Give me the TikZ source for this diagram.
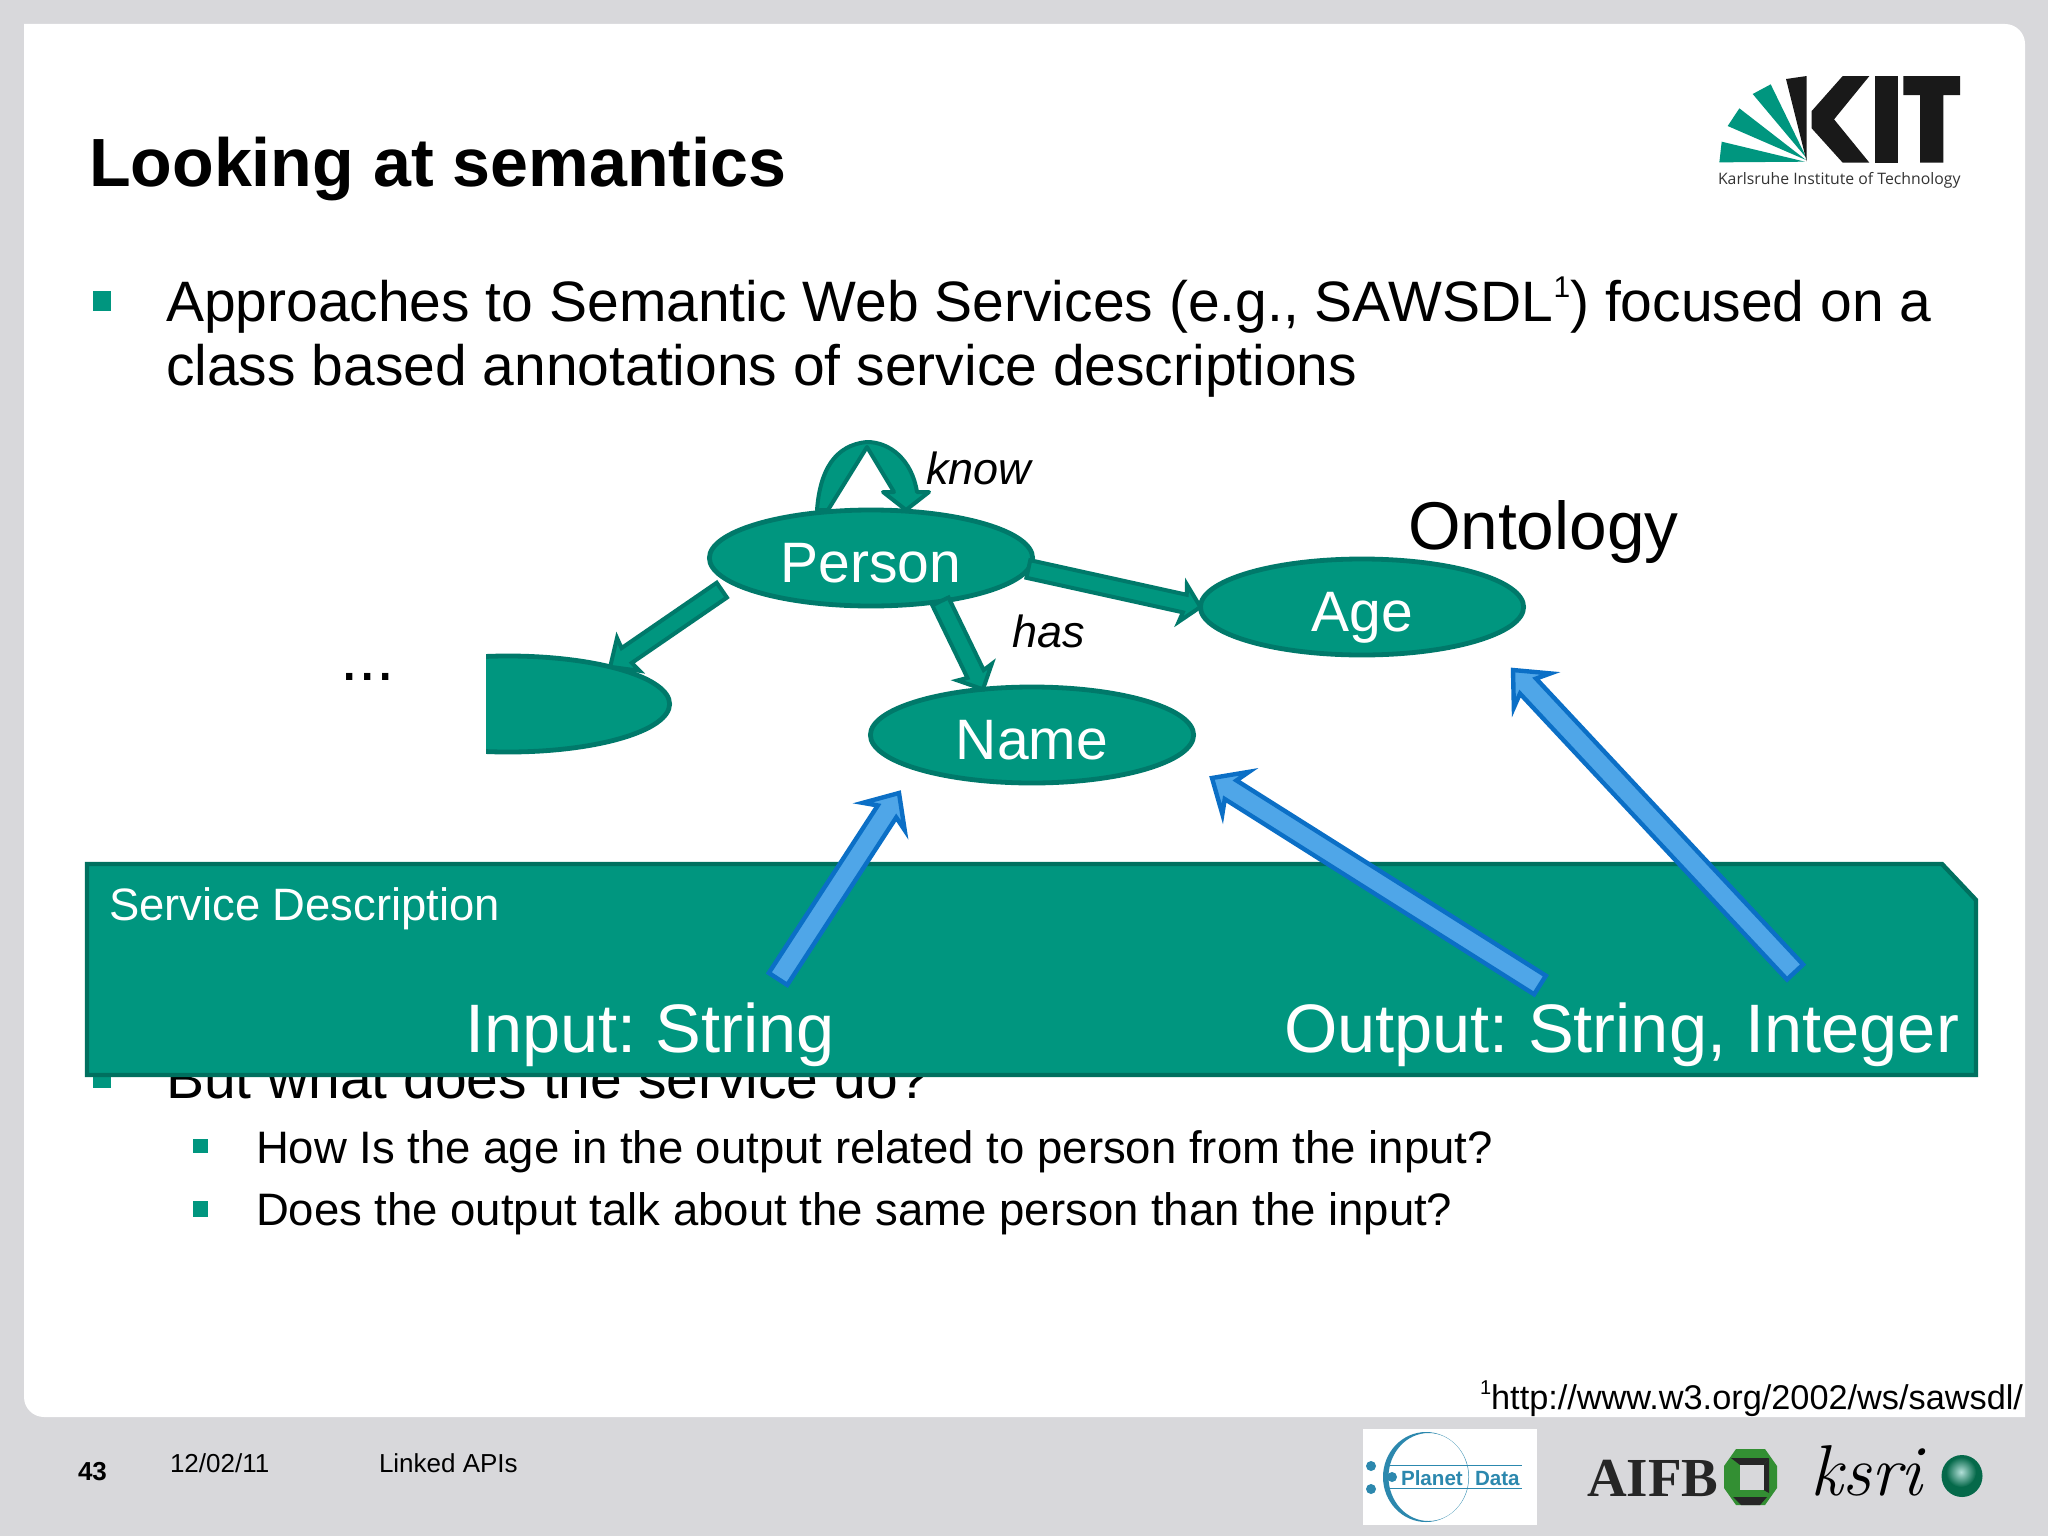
\documentclass[tikz,border=0pt]{standalone}
\usepackage{fontspec}
\setmainfont{Liberation Sans}
\newfontfamily\logofont{Open Sans}
\newfontfamily\aifbfont{Liberation Serif}
\newfontfamily\ksrifont{Latin Modern Roman}
\usetikzlibrary{calc,shapes.geometric}
\frenchspacing
\newcommand{\pxfont}[1]{\fontsize{#1}{#1}\selectfont}
\newcommand{\upone}[1]{\raisebox{0.42em}{\pxfont{#1}1}}
% style, from, to, half shaft, half head, head length, head back
\newcommand{\blockarrow}[7]{%
  \path let \p1=($(#3)-(#2)$) in \pgfextra{%
    \pgfmathsetmacro\arrowangle{atan2(\y1,\x1)}\global\let\arrowangle\arrowangle
    \pgfmathsetmacro\arrowlen{veclen(\x1,\y1)}\global\let\arrowlen\arrowlen};
  \draw [#1,shift={(#3)},rotate=\arrowangle] (0pt,0pt) -- (-#6pt,#5pt) -- (-#7pt,#4pt) -- (-\arrowlen pt,#4pt)
    -- (-\arrowlen pt,-#4pt) -- (-#7pt,-#4pt) -- (-#6pt,-#5pt) -- cycle;
}
\definecolor{kitgreen}{HTML}{00967F}
\definecolor{kitedge}{HTML}{00796A}
\definecolor{boxedge}{HTML}{00705F}
\definecolor{slidegray}{HTML}{D8D8DB}
\definecolor{blueface}{HTML}{4FA6E8}
\definecolor{blueedge}{HTML}{0B6FC6}
\definecolor{planetblue}{HTML}{2C88AE}
\definecolor{balledge}{HTML}{05694A}
\tikzset{
  txt/.style={anchor=base west,inner sep=0pt,outer sep=0pt},
  concept/.style={ellipse,fill=kitgreen,draw=kitedge,line width=2.4pt,inner sep=0pt,outer sep=0pt,
    minimum width=161.6pt,minimum height=48pt,text=white,font=\pxfont{28.5},text height=24pt,text depth=0pt},
  bulletbox/.style={fill=kitgreen},
  relation/.style={fill=kitgreen,draw=kitedge,line width=2pt},
  mapping/.style={fill=blueface,draw=blueedge,line width=2.2pt},
}
\begin{document}
\begin{tikzpicture}[x=0.5pt,y=-0.5pt]
\useasboundingbox (0,0) rectangle (2048,1536);
\fill [slidegray] (0,0) rectangle (2048,1536);
\fill [white] (24,24) [rounded corners=10pt] -- (2025,24) [sharp corners] -- (2025,1417)
  [rounded corners=10pt] -- (24,1417) [sharp corners] -- cycle;

% slide text
\node [txt,font=\bfseries\pxfont{34.1}] (title) at (89,186) {Looking at semantics};
\fill [bulletbox] (93,291) rectangle (111,311);
\node [txt,font=\pxfont{28.5}] (lineone) at (166,321) {Approaches to Semantic Web Services (e.g., SAWSDL\upone{15}) focused on a};
\node [txt,font=\pxfont{28.5}] (linetwo) at (166,385) {class based annotations of service descriptions};
\fill [bulletbox] (93,1068) rectangle (111,1088);
\node [txt,font=\pxfont{28.5}] (butwhat) at (166,1098) {But what does the service do?};
\fill [bulletbox] (193,1139) rectangle (208,1153);
\node [txt,font=\pxfont{22.75}] (subone) at (256,1163) {How Is the age in the output related to person from the input?};
\fill [bulletbox] (193,1201) rectangle (208,1217);
\node [txt,font=\pxfont{22.75}] (subtwo) at (256,1225) {Does the output talk about the same person than the input?};
\node [txt,font=\pxfont{17.15}] (footnote) at (1480,1409) {\upone{10}http://www.w3.org/2002/ws/sawsdl/};

% ontology
\node [concept] (person) at (871,558) {Person};
\node [concept] (name) at (1032,735) {Name};
\node [concept] (age) at (1362,607) {Age};
\begin{scope}
  \clip (486,600) rectangle (720,800);
  \node [concept] (other) at (508,704) {};
\end{scope}
\node [txt,font=\pxfont{33}] (dots) at (340,680) {...};
\node [txt,font=\itshape\pxfont{22.5}] (know) at (926,484) {know};
\node [txt,font=\itshape\pxfont{22.5}] (has) at (1012,647) {has};
\node [txt,font=\pxfont{33.8}] (ontology) at (1408,549) {Ontology};

\coordinate (othertail) at (722,590);
\blockarrow{relation}{othertail}{other.20}{4.5}{10}{11}{10}
\blockarrow{relation}{person.-32}{name.137}{4.5}{9.5}{9.5}{8.5}
\blockarrow{relation}{person.-4.5}{age.west}{4.5}{9.5}{9}{8}
\draw [fill=kitgreen,draw=kitedge,line width=2pt,line join=round]
  (817,510) .. controls (820,470) and (835,445) .. (867,442)
  .. controls (890,442) and (912,460) .. (917,492) -- (929,492) -- (906,510) -- (883,492) -- (894,492)
  -- (867,447) -- (828,510) -- cycle;

% service box
\draw [fill=kitgreen,draw=boxedge,line width=2.2pt] (87,864) -- (1942,864) -- (1976,900) -- (1976,1075) -- (87,1075) -- cycle;
\node [txt,text=white,font=\pxfont{22.7}] (service) at (109,920) {Service Description};
\node [txt,text=white,font=\pxfont{34.3}] (input) at (465,1052) {Input: String};
\node [txt,text=white,font=\pxfont{34.3}] (output) at (1284,1052) {Output: String, Integer};

\coordinate (inputtail) at (778,979);
\coordinate (inputtip) at (899,793);
\coordinate (outputtail) at (1540,985);
\coordinate (outputtip) at (1212,778);
\coordinate (agetail) at (1795,972);
\coordinate (agetip) at (1513,670);
\blockarrow{mapping}{inputtail}{inputtip}{5.5}{12.5}{14}{11}
\blockarrow{mapping}{outputtail}{outputtip}{5.5}{12.5}{14}{11}
\blockarrow{mapping}{agetail}{agetip}{5.5}{12.5}{14}{11}

% footer
\node [txt,font=\bfseries\pxfont{13}] (page) at (78,1480) {43};
\node [txt,font=\pxfont{13}] (date) at (170,1472) {12/02/11};
\node [txt,font=\pxfont{13}] (talk) at (379,1472) {Linked APIs};

% KIT logo
\begin{scope}[shift={(1680,50)},x=0.1667pt,y=-0.1667pt]
  \fill [kitgreen] (118,337) -- (125,275) -- (375,335) -- cycle;
  \fill [kitgreen] (143,228) -- (178,175) -- (378,330) -- cycle;
  \fill [kitgreen] (218,132) -- (272,103) -- (380,325) -- cycle;
  \fill [black!90] (318,87) -- (380,78) -- (380,335) -- cycle;
  \fill [black!90] (395,183) -- (488,78) -- (568,78) -- (462,208) -- (568,338) -- (488,338) -- (395,235) -- cycle;
  \fill [black!90] (585,78) rectangle (655,338);
  \fill [black!90] (670,78) -- (840,78) -- (840,135) -- (790,135) -- (790,338) -- (720,338) -- (720,135) -- (670,135) -- cycle;
\end{scope}
\node [txt,text=black!80,font=\logofont\pxfont{7.9}] (kitname) at (1718,184) {Karlsruhe Institute of Technology};

% partner logos
\fill [white] (1363,1429) rectangle (1537,1525);
\draw [planetblue,line width=0.4pt] (1385,1465) -- (1522,1465);
\draw [planetblue,line width=0.4pt] (1385,1488) -- (1522,1488);
\fill [planetblue,even odd rule] (1426,1477) ellipse [x radius=43,y radius=45] (1428.5,1477) ellipse [x radius=40,y radius=44];
\fill [planetblue] (1371,1466) circle [radius=5];
\fill [planetblue] (1371,1489) circle [radius=5];
\fill [planetblue] (1392,1477) circle [radius=5];
\node [txt,text=planetblue,font=\bfseries\pxfont{10.3}] (planet) at (1401,1485) {Planet};
\node [txt,text=planetblue,font=\bfseries\pxfont{10.3}] (data) at (1475,1485) {Data};
\node [txt,text=black!85,font=\aifbfont\bfseries\pxfont{27.5}] (aifb) at (1587,1496) {AIFB};
\fill [green!45!black!80!white] (1736,1449) -- (1765,1449) -- (1777,1466) -- (1777,1488) -- (1765,1505) -- (1736,1505) -- (1724,1488) -- (1724,1466) -- cycle;
\fill [black!85] (1731,1458) -- (1769,1458) -- (1763.5,1465) -- (1740,1465) -- cycle;
\fill [black!85] (1769,1458) -- (1769,1493) -- (1763.5,1490) -- (1763.5,1465) -- cycle;
\fill [black!85] (1733,1497) -- (1767,1497) -- (1760,1505) -- (1741,1505) -- cycle;
\fill [slidegray] (1740,1465) rectangle (1763.5,1490);
\node [txt,font=\ksrifont\itshape\pxfont{36}] (ksri) at (1810,1495) {ksri};
\fill [balledge] (1962,1476) ellipse [x radius=20.5,y radius=21];
\shade [inner color=white!70!kitgreen,outer color=balledge] (1961,1472) circle [radius=15];
\end{tikzpicture}
\end{document}
